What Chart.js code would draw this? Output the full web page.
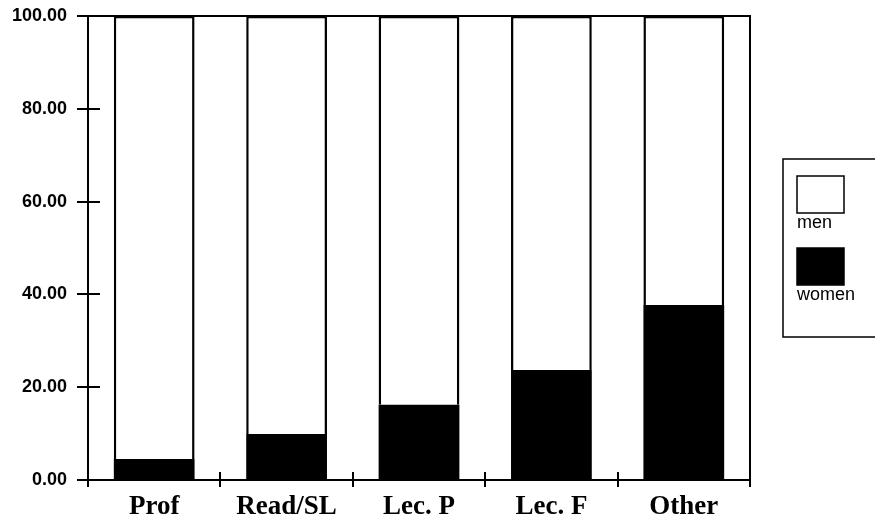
<!DOCTYPE html>
<html>
<head>
<meta charset="utf-8">
<script src="https://cdn.jsdelivr.net/npm/chart.js@4.4.1/dist/chart.umd.min.js"></script>
<style>
  html, body { margin: 0; padding: 0; background: #fff; }
  #wrap { width: 875px; height: 525px; }
</style>
</head>
<body>
<div id="wrap"><canvas id="chart" width="875" height="525"></canvas></div>
<script>
const categories = ["Prof", "Read/SL", "Lec. P", "Lec. F", "Other"];
const womenValues = [4.5, 9.9, 16.2, 23.7, 37.7];
const menValues = [95.5, 90.1, 83.8, 76.3, 62.3];
const yTicks = [0, 20, 40, 60, 80, 100];

// frame, inner tick halves and the boxed legend on the right
const framePlugin = {
    id: "frame",
    afterDraw(chart) {
        const ctx = chart.ctx;
        const a = chart.chartArea;
        const x = chart.scales.x;
        const y = chart.scales.y;
        ctx.save();
        ctx.strokeStyle = "#000";
        ctx.lineWidth = 2;
        ctx.strokeRect(a.left, a.top, a.right - a.left, a.bottom - a.top);

        ctx.beginPath();
        yTicks.forEach(v => {
            const py = Math.round(y.getPixelForValue(v));
            ctx.moveTo(a.left, py);
            ctx.lineTo(a.left + 12, py);
        });
        for (let i = 0; i <= categories.length; i++) {
            const px = Math.round(x.getPixelForValue(i - 0.5));
            ctx.moveTo(px, a.bottom);
            ctx.lineTo(px, a.bottom - 8);
        }
        ctx.stroke();

        // legend
        ctx.lineWidth = 1.5;
        ctx.strokeRect(783, 159, 100, 178);
        const items = [chart.data.datasets[1], chart.data.datasets[0]];
        ctx.font = "18px 'Liberation Sans', Arial, sans-serif";
        ctx.textBaseline = "alphabetic";
        items.forEach((ds, i) => {
            const top = 176 + i * 72;
            ctx.fillStyle = ds.backgroundColor;
            ctx.fillRect(797, top, 47, 37);
            ctx.strokeStyle = "#000";
            ctx.strokeRect(797, top, 47, 37);
            ctx.fillStyle = "#000";
            ctx.fillText(ds.label, 797, top + 52);
        });
        ctx.restore();
    }
};

new Chart(document.getElementById("chart").getContext("2d"), {
    type: "bar",
    data: {
        labels: categories,
        datasets: [
            {
                label: "women",
                data: womenValues,
                backgroundColor: "#000",
                borderColor: "#000",
                borderWidth: 0,
                barPercentage: 0.61,
                categoryPercentage: 1
            },
            {
                label: "men",
                data: menValues,
                backgroundColor: "#fff",
                borderColor: "#000",
                borderWidth: 2.5,
                borderSkipped: "bottom",
                barPercentage: 0.61,
                categoryPercentage: 1
            }
        ]
    },
    options: {
        responsive: false,
        animation: false,
        events: [],
        layout: { padding: { left: 0, top: 16, right: 125, bottom: 0 } },
        plugins: {
            legend: { display: false },
            tooltip: { enabled: false }
        },
        scales: {
            x: {
                stacked: true,
                afterFit: s => { s.height = 45; s.paddingLeft = 0; s.paddingRight = 0; },
                border: { display: true, color: "#000", width: 2 },
                grid: {
                    drawOnChartArea: false,
                    drawTicks: true,
                    tickLength: 7,
                    color: "#000",
                    lineWidth: 2
                },
                ticks: {
                    color: "#000",
                    padding: 4,
                    font: { family: "'Liberation Serif', 'Times New Roman', serif", size: 27, weight: "bold" }
                }
            },
            y: {
                stacked: true,
                min: 0,
                max: 100,
                afterFit: s => { s.width = 88; s.paddingTop = 0; s.paddingBottom = 0; },
                border: { display: true, color: "#000", width: 2 },
                grid: {
                    drawOnChartArea: false,
                    drawTicks: true,
                    tickLength: 11,
                    color: "#000",
                    lineWidth: 2
                },
                ticks: {
                    stepSize: 20,
                    color: "#000",
                    padding: 10,
                    font: { family: "'Liberation Sans', Arial, sans-serif", size: 18, weight: "bold" },
                    callback: v => v.toFixed(2)
                }
            }
        }
    },
    plugins: [framePlugin]
});
</script>
</body>
</html>
